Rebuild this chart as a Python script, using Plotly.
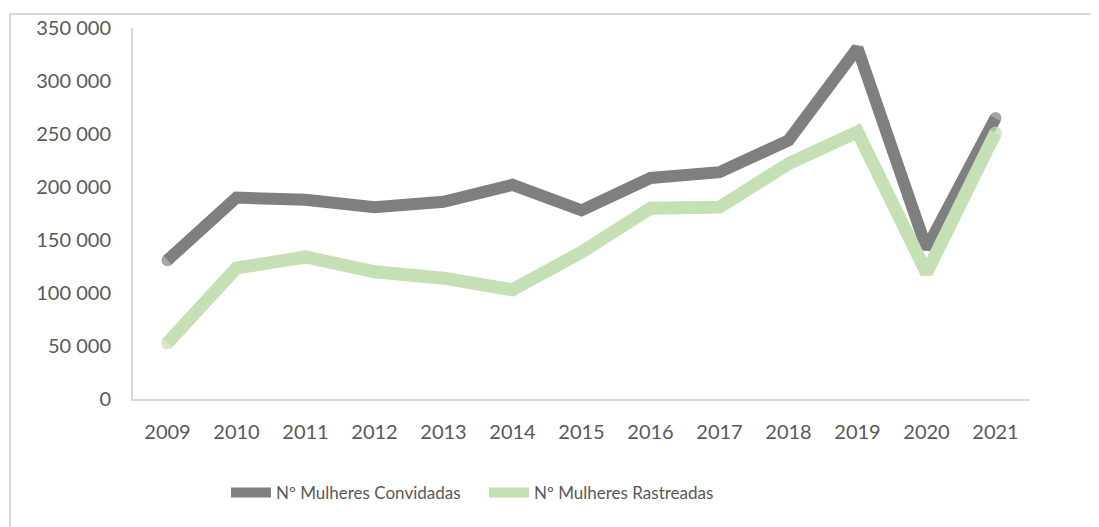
import plotly.graph_objects as go

years = ["2009", "2010", "2011", "2012", "2013", "2014", "2015", "2016", "2017", "2018", "2019", "2020", "2021"]
convidadas = [131000, 190000, 188000, 181000, 186000, 202000, 178000, 208500, 214000, 244000, 331000, 142000, 265000]
rastreadas = [53000, 123500, 134000, 120000, 114000, 103000, 138500, 180000, 181000, 222000, 252000, 119000, 251000]
y_ticks = [0, 50000, 100000, 150000, 200000, 250000, 300000, 350000]

FONT = "Lato"
TXT = "#595959"
AX = "#d9d9d9"
GRAY = "#7f7f7f"
GREEN = "#c5e0b4"

n = len(years)
cap_sizes = [12] + [0] * (n - 2) + [12]
cap_sizes_g = [13] + [0] * (n - 2) + [13]

fig = go.Figure()
fig.add_trace(go.Scatter(x=years, y=convidadas, mode="lines+markers", name="Nº Mulheres Convidadas",
                         line=dict(color=GRAY, width=12),
                         marker=dict(size=cap_sizes, color=GRAY, line=dict(width=0))))
fig.add_trace(go.Scatter(x=years, y=rastreadas, mode="lines+markers", name="Nº Mulheres Rastreadas",
                         line=dict(color=GREEN, width=13),
                         marker=dict(size=cap_sizes_g, color=GREEN, line=dict(width=0))))

W, H = 1091, 519
L, T = 125, 20
PW, PH = 897, 371

fig.update_layout(
    width=W, height=H,
    margin=dict(l=L, r=W - L - PW, t=T, b=H - T - PH, autoexpand=False),
    paper_bgcolor="white", plot_bgcolor="white",
    separators=", ",
    font=dict(family=FONT, size=20, color=TXT),
    showlegend=True,
    legend=dict(orientation="h", x=0.1037, xanchor="left", y=-0.253, yanchor="middle",
                font=dict(family=FONT, size=17, color=TXT), itemwidth=40,
                entrywidth=203, entrywidthmode="pixels", traceorder="normal"),
    xaxis=dict(type="category", range=[-0.5, 12.5], showgrid=False, showline=True, linecolor=AX,
               linewidth=2, ticks="", ticklabelstandoff=14,
               tickfont=dict(family=FONT, size=20, color=TXT), zeroline=False),
    yaxis=dict(range=[0, 350000], tickvals=y_ticks, tickformat=",d", showgrid=False, showline=True,
               linecolor=AX, linewidth=2, ticks="", ticklabelstandoff=16,
               tickfont=dict(family=FONT, size=20, color=TXT), zeroline=False),
    shapes=[
        dict(type="line", xref="paper", yref="paper", x0=-0.1371, x1=1.2, y0=1.0377, y1=1.0377,
             line=dict(color=AX, width=2)),
        dict(type="line", xref="paper", yref="paper", x0=-0.1371, x1=-0.1371, y0=-0.4, y1=1.0377,
             line=dict(color=AX, width=2)),
    ],
)

fig.write_html("out.html")
